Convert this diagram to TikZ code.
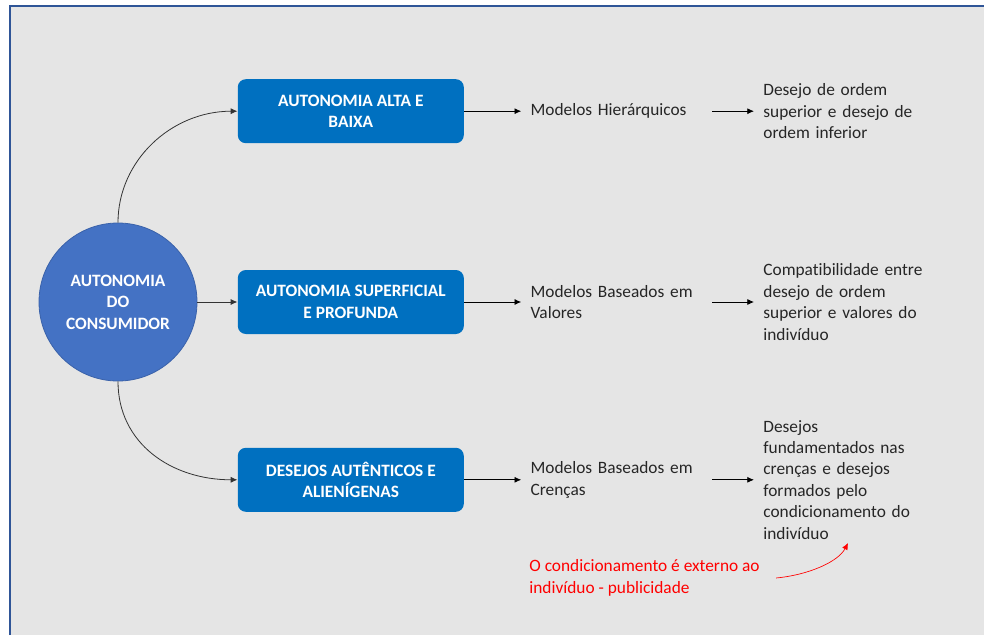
\documentclass[tikz,border=0pt]{standalone}
\usepackage{fontspec}
\setmainfont{Carlito}[Ligatures={NoCommon}]
\usetikzlibrary{arrows.meta, positioning}

\definecolor{fundo}{HTML}{E5E5E5}
\definecolor{moldura}{HTML}{2F5597}
\definecolor{azulcirc}{HTML}{4472C4}
\definecolor{azulborda}{HTML}{3A62AA}
\definecolor{azulcaixa}{HTML}{0070C0}
\definecolor{texto}{HTML}{262626}
\definecolor{vermelho}{HTML}{FF0000}

\newcommand{\letra}{\fontsize{13}{16.1}\selectfont}

\begin{document}
\begin{tikzpicture}[
		x = 0.75pt, y = -0.75pt, % one unit = one pixel, y downwards
		> = {Latex[length=5pt, width=4.5pt]}, % arrow head style
		line width = 0.6pt, % line style
		node distance = 30pt
		]
		
		\tikzstyle{hub}=[
		circle,
		draw = azulborda,
		fill = azulcirc,
		text = white,
		font = \bfseries\letra,
		minimum size = 118.5pt,
		inner sep = 0pt,
		align = center
		]
		\tikzstyle{tema}=[
		rectangle,
		rounded corners = 6pt,
		fill = azulcaixa,
		text = white,
		font = \bfseries\letra,
		minimum width = 169.5pt,
		minimum height = 48pt,
		inner sep = 0pt,
		align = center
		]
		\tikzstyle{modelo}=[text = texto, font = \letra, text width = 135.75pt, align = left, inner sep = 0pt]
		\tikzstyle{desejo}=[text = texto, font = \letra, text width = 150pt, align = left, inner sep = 0pt]
		\tikzstyle{nota}=[text = vermelho, font = \letra, align = left, inner sep = 0pt]
		
		% frame
		\useasboundingbox (0,0) rectangle (984,635);
		\fill[fundo] (9.5,6.5) rectangle (984,635);
		\draw[moldura, line width = 1.5pt] (9.5,635) -- (9.5,6.5) -- (984,6.5);
		
		\node[hub] (aut) at (118,302) {AUTONOMIA\\DO\\CONSUMIDOR};
		\node[tema] (sup) [right=of aut] {AUTONOMIA SUPERFICIAL\\E PROFUNDA};
		\node[tema] (alta) [above=94.5pt of sup] {AUTONOMIA ALTA E\\BAIXA};
		\node[tema] (aut2) [below=84.75pt of sup] {DESEJOS AUTÊNTICOS E\\ALIENÍGENAS};
		
		\node[modelo] (hier) [right=49.5pt of alta] {Modelos Hierárquicos};
		\node[modelo] (val) [right=49.5pt of sup] {Modelos Baseados em\\Valores};
		\node[modelo] (cren) [right=49.5pt of aut2] {Modelos Baseados em\\Crenças};
		
		\node[desejo] (ordem) [right=38.25pt of hier] {Desejo de ordem\\superior e desejo de\\ordem inferior};
		\node[desejo] (compat) [right=38.25pt of val] {Compatibilidade entre\\desejo de ordem\\superior e valores do\\indivíduo};
		\node[desejo] (fund) [right=38.25pt of cren] {Desejos\\fundamentados nas\\crenças e desejos\\formados pelo\\condicionamento do\\indivíduo};
		
		\node[nota, anchor=west] (cond) at (529,578) {O condicionamento é externo ao\\indivíduo - publicidade};
		\coordinate (alvo) at (848,543);
		
		\draw[->, black!80] (aut.north) .. controls +(0,-62) and +(-66,0) .. (alta.west);
		\path[->, black!80] (aut) edge (sup);
		\draw[->, black!80] (aut.south) .. controls +(0,62) and +(-66,0) .. (aut2.west);
		
		\path[->, shorten > = 6.75pt] (alta) edge (hier);
		\path[->, shorten > = 6.75pt] (sup) edge (val);
		\path[->, shorten > = 6.75pt] (aut2) edge (cren);
		
		\path[->, shorten > = 6.75pt] (hier) edge (ordem);
		\path[->, shorten > = 6.75pt] (val) edge (compat);
		\path[->, shorten > = 6.75pt] (cren) edge (fund);
		
		\draw[->, vermelho, line width = 0.5pt] ([xshift=12pt]cond.east) .. controls +(32,-3) and +(-10,19) .. (alvo);
		
		\end{tikzpicture}
\end{document}
